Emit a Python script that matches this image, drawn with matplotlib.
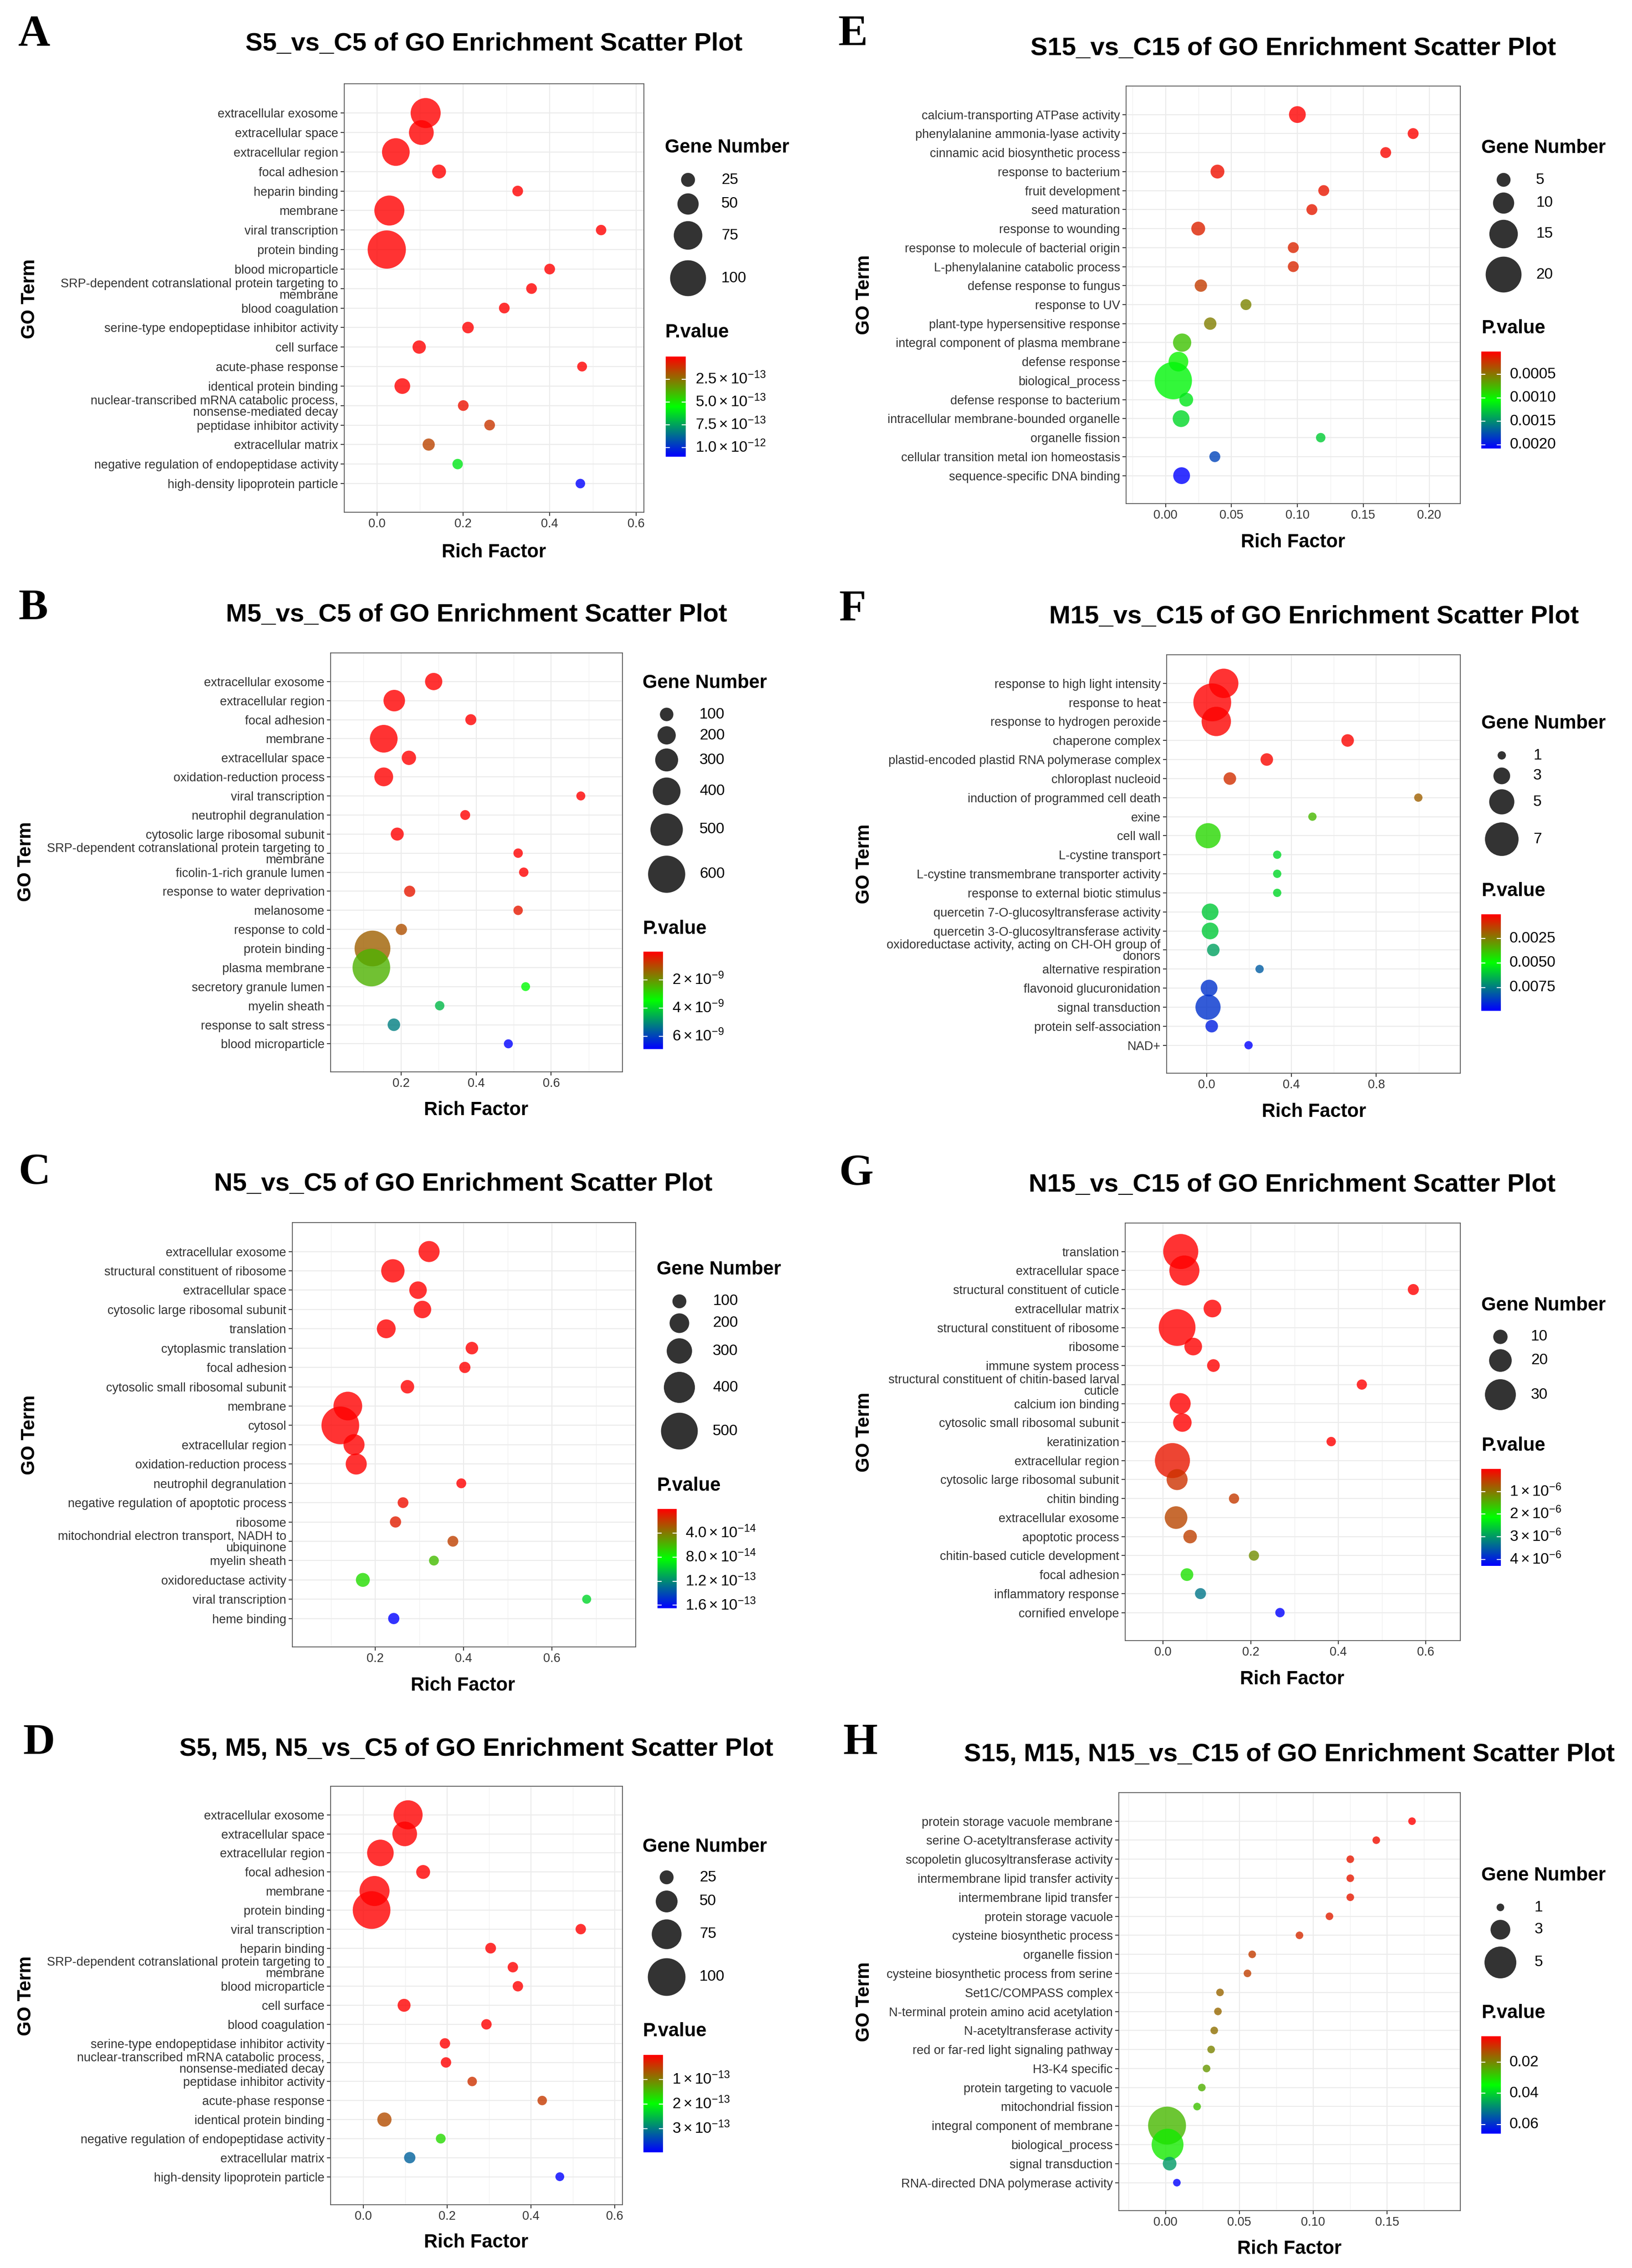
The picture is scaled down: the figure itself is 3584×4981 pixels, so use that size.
import numpy as np
import matplotlib
matplotlib.use('Agg')
import matplotlib.pyplot as plt
from matplotlib.colors import LinearSegmentedColormap, Normalize

plt.rcParams['font.family'] = ['Liberation Sans', 'DejaVu Sans']
plt.rcParams['mathtext.fontset'] = 'custom'
plt.rcParams['mathtext.rm'] = 'Liberation Sans'
plt.rcParams['mathtext.it'] = 'Liberation Sans:italic'
plt.rcParams['mathtext.bf'] = 'Liberation Sans:bold'

W, H = 3584, 4981
DPI = 100
PT = 72 / DPI  # points per pixel

# ---------------- data ----------------
# A: S5_vs_C5
terms_a = ['extracellular exosome', 'extracellular space', 'extracellular region', 'focal adhesion',
           'heparin binding', 'membrane', 'viral transcription', 'protein binding', 'blood microparticle',
           'SRP-dependent cotranslational protein targeting to\nmembrane', 'blood coagulation',
           'serine-type endopeptidase inhibitor activity', 'cell surface', 'acute-phase response',
           'identical protein binding', 'nuclear-transcribed mRNA catabolic process,\nnonsense-mediated decay',
           'peptidase inhibitor activity', 'extracellular matrix',
           'negative regulation of endopeptidase activity', 'high-density lipoprotein particle']
rich_a = [0.113, 0.103, 0.044, 0.144, 0.326, 0.029, 0.519, 0.023, 0.400, 0.358,
          0.295, 0.211, 0.098, 0.475, 0.059, 0.200, 0.261, 0.120, 0.187, 0.471]
genes_a = [80, 62, 72, 25, 14, 80, 13, 108, 14, 14, 14, 17, 23, 11, 31, 14, 14, 19, 13, 10]
pval_a = [1e-40, 5e-39, 2e-35, 1e-25, 3e-22, 1e-20, 5e-20, 2e-19, 4e-19, 1e-18,
          6e-18, 2e-17, 1e-16, 3e-16, 1e-15, 4e-14, 1.2e-13, 1.5e-13, 6.0e-13, 1.1e-12]

# B: M5_vs_C5
terms_b = ['extracellular exosome', 'extracellular region', 'focal adhesion', 'membrane',
           'extracellular space', 'oxidation-reduction process', 'viral transcription',
           'neutrophil degranulation', 'cytosolic large ribosomal subunit',
           'SRP-dependent cotranslational protein targeting to\nmembrane', 'ficolin-1-rich granule lumen',
           'response to water deprivation', 'melanosome', 'response to cold', 'protein binding',
           'plasma membrane', 'secretory granule lumen', 'myelin sheath', 'response to salt stress',
           'blood microparticle']
rich_b = [0.287, 0.182, 0.386, 0.154, 0.221, 0.154, 0.679, 0.371, 0.190, 0.512,
          0.527, 0.223, 0.512, 0.201, 0.124, 0.121, 0.532, 0.303, 0.181, 0.486]
genes_b = [180, 270, 48, 400, 118, 212, 5, 24, 90, 14, 14, 52, 14, 52, 571, 610, 3, 14, 80, 5]
pval_b = [1e-30, 1e-28, 1e-25, 1e-24, 1e-22, 1e-20, 1e-18, 1e-16, 1e-15, 1e-13,
          1e-12, 3.5e-10, 3.5e-10, 1.1e-9, 1.3e-9, 2.4e-9, 3.5e-9, 4.4e-9, 5.2e-9, 6.9e-9]

# C: N5_vs_C5
terms_c = ['extracellular exosome', 'structural constituent of ribosome', 'extracellular space',
           'cytosolic large ribosomal subunit', 'translation', 'cytoplasmic translation', 'focal adhesion',
           'cytosolic small ribosomal subunit', 'membrane', 'cytosol', 'extracellular region',
           'oxidation-reduction process', 'neutrophil degranulation',
           'negative regulation of apoptotic process', 'ribosome',
           'mitochondrial electron transport, NADH to\nubiquinone', 'myelin sheath',
           'oxidoreductase activity', 'viral transcription', 'heme binding']
rich_c = [0.322, 0.240, 0.297, 0.307, 0.225, 0.419, 0.403, 0.273, 0.138, 0.121,
          0.152, 0.157, 0.395, 0.263, 0.246, 0.376, 0.333, 0.172, 0.679, 0.242]
genes_c = [225, 265, 163, 163, 186, 76, 53, 92, 359, 516, 225, 225, 29, 45, 53, 45, 29, 100, 14, 53]
pval_c = [1e-40, 1e-38, 1e-36, 1e-34, 1e-32, 1e-30, 1e-28, 1e-26, 1e-24, 1e-22,
          1e-20, 1e-18, 1e-16, 5e-15, 1.0e-14, 2.1e-14, 6.1e-14, 7.1e-14, 9.6e-14, 1.65e-13]

# D: S5, M5, N5_vs_C5
terms_d = ['extracellular exosome', 'extracellular space', 'extracellular region', 'focal adhesion',
           'membrane', 'protein binding', 'viral transcription', 'heparin binding',
           'SRP-dependent cotranslational protein targeting to\nmembrane', 'blood microparticle',
           'cell surface', 'blood coagulation', 'serine-type endopeptidase inhibitor activity',
           'nuclear-transcribed mRNA catabolic process,\nnonsense-mediated decay',
           'peptidase inhibitor activity', 'acute-phase response', 'identical protein binding',
           'negative regulation of endopeptidase activity', 'extracellular matrix',
           'high-density lipoprotein particle']
rich_d = [0.107, 0.099, 0.041, 0.143, 0.027, 0.020, 0.519, 0.304, 0.357, 0.369,
          0.0975, 0.294, 0.195, 0.1975, 0.260, 0.427, 0.0506, 0.185, 0.111, 0.469]
genes_d = [73, 59, 65, 25, 76, 100, 14, 15, 14, 14, 22, 14, 14, 14, 11, 11, 26, 12, 17, 9]
pval_d = [1e-40, 1e-38, 1e-36, 1e-34, 1e-32, 1e-30, 1e-28, 1e-26, 1e-24, 1e-22,
          1e-20, 1e-18, 1e-16, 1e-15, 4e-14, 4.5e-14, 6e-14, 1.7e-13, 3.2e-13, 3.96e-13]

# E: S15_vs_C15
terms_e = ['calcium-transporting ATPase activity', 'phenylalanine ammonia-lyase activity',
           'cinnamic acid biosynthetic process', 'response to bacterium', 'fruit development',
           'seed maturation', 'response to wounding', 'response to molecule of bacterial origin',
           'L-phenylalanine catabolic process', 'defense response to fungus', 'response to UV',
           'plant-type hypersensitive response', 'integral component of plasma membrane',
           'defense response', 'biological_process', 'defense response to bacterium',
           'intracellular membrane-bounded organelle', 'organelle fission',
           'cellular transition metal ion homeostasis', 'sequence-specific DNA binding']
rich_e = [0.100, 0.1878, 0.167, 0.0394, 0.120, 0.111, 0.0248, 0.0969, 0.0969, 0.0268,
          0.061, 0.0339, 0.0126, 0.0098, 0.0059, 0.0157, 0.0118, 0.1177, 0.0374, 0.0122]
genes_e = [7, 3, 3, 5, 3, 3, 5, 3, 3, 4, 3, 4, 8, 9, 21, 5, 7, 2, 3, 7]
pval_e = [0.00001, 0.00002, 0.00004, 0.00008, 0.0001, 0.00012, 0.00015, 0.00016, 0.00017, 0.00026,
          0.00055, 0.00052, 0.0008, 0.0010, 0.00108, 0.00115, 0.0012, 0.00125, 0.0018, 0.00208]

# F: M15_vs_C15
terms_f = ['response to high light intensity', 'response to heat', 'response to hydrogen peroxide',
           'chaperone complex', 'plastid-encoded plastid RNA polymerase complex', 'chloroplast nucleoid',
           'induction of programmed cell death', 'exine', 'cell wall', 'L-cystine transport',
           'L-cystine transmembrane transporter activity', 'response to external biotic stimulus',
           'quercetin 7-O-glucosyltransferase activity', 'quercetin 3-O-glucosyltransferase activity',
           'oxidoreductase activity, acting on CH-OH group of\ndonors', 'alternative respiration',
           'flavonoid glucuronidation', 'signal transduction', 'protein self-association', 'NAD+']
rich_f = [0.081, 0.027, 0.046, 0.665, 0.284, 0.110, 0.998, 0.499, 0.0073, 0.333,
          0.333, 0.333, 0.017, 0.017, 0.032, 0.250, 0.012, 0.007, 0.0245, 0.198]
genes_f = [6, 8, 6, 2, 2, 2, 1, 1, 5, 1, 1, 1, 3, 3, 2, 1, 3, 5, 2, 1]
pval_f = [0.00001, 0.00003, 0.00005, 0.0001, 0.00015, 0.0009, 0.0019, 0.0036, 0.0042, 0.0057,
          0.0057, 0.0057, 0.0060, 0.0060, 0.0068, 0.0081, 0.0089, 0.0089, 0.0093, 0.0099]

# G: N15_vs_C15
terms_g = ['translation', 'extracellular space', 'structural constituent of cuticle', 'extracellular matrix',
           'structural constituent of ribosome', 'ribosome', 'immune system process',
           'structural constituent of chitin-based larval\ncuticle', 'calcium ion binding',
           'cytosolic small ribosomal subunit', 'keratinization', 'extracellular region',
           'cytosolic large ribosomal subunit', 'chitin binding', 'extracellular exosome',
           'apoptotic process', 'chitin-based cuticle development', 'focal adhesion',
           'inflammatory response', 'cornified envelope']
rich_g = [0.0403, 0.0486, 0.5716, 0.1127, 0.032, 0.0688, 0.115, 0.454, 0.039, 0.044,
          0.384, 0.0213, 0.032, 0.162, 0.0296, 0.0617, 0.2075, 0.0545, 0.0854, 0.267]
genes_g = [35, 29, 6, 14, 37, 14, 8, 5, 18, 15, 4, 35, 18, 5, 20, 9, 5, 8, 6, 4]
pval_g = [1e-20, 1e-19, 1e-18, 1e-17, 1e-16, 1e-15, 1e-14, 1e-13, 1e-12, 1e-11,
          1e-10, 2e-7, 4.3e-7, 5e-7, 6e-7, 5.5e-7, 1.2e-6, 1.9e-6, 3.3e-6, 4.29e-6]

# H: S15, M15, N15_vs_C15
terms_h = ['protein storage vacuole membrane', 'serine O-acetyltransferase activity',
           'scopoletin glucosyltransferase activity', 'intermembrane lipid transfer activity',
           'intermembrane lipid transfer', 'protein storage vacuole', 'cysteine biosynthetic process',
           'organelle fission', 'cysteine biosynthetic process from serine', 'Set1C/COMPASS complex',
           'N-terminal protein amino acid acetylation', 'N-acetyltransferase activity',
           'red or far-red light signaling pathway', 'H3-K4 specific', 'protein targeting to vacuole',
           'mitochondrial fission', 'integral component of membrane', 'biological_process',
           'signal transduction', 'RNA-directed DNA polymerase activity']
rich_h = [0.1669, 0.1427, 0.1251, 0.1251, 0.1251, 0.111, 0.0907, 0.0587, 0.0555, 0.0369,
          0.0355, 0.033, 0.0309, 0.0278, 0.0246, 0.0214, 0.00105, 0.0014, 0.0028, 0.0077]
genes_h = [1, 1, 1, 1, 1, 1, 1, 1, 1, 1, 1, 1, 1, 1, 1, 1, 6, 5, 2, 1]
pval_h = [0.0032, 0.005, 0.0063, 0.0063, 0.0063, 0.007, 0.0085, 0.0107, 0.011, 0.0158,
          0.016, 0.017, 0.0195, 0.022, 0.025, 0.027, 0.026, 0.032, 0.047, 0.066]

# legend breaks and labels
size_breaks = {'A': [25, 50, 75, 100], 'B': [100, 200, 300, 400, 500, 600], 'C': [100, 200, 300, 400, 500],
               'D': [25, 50, 75, 100], 'E': [5, 10, 15, 20], 'F': [1, 3, 5, 7], 'G': [10, 20, 30], 'H': [1, 3, 5]}
cb_ticks = {'A': [2.5e-13, 5e-13, 7.5e-13, 1e-12], 'B': [2e-9, 4e-9, 6e-9],
            'C': [4e-14, 8e-14, 1.2e-13, 1.6e-13], 'D': [1e-13, 2e-13, 3e-13],
            'E': [0.0005, 0.0010, 0.0015, 0.0020], 'F': [0.0025, 0.0050, 0.0075],
            'G': [1e-6, 2e-6, 3e-6, 4e-6], 'H': [0.02, 0.04, 0.06]}
cb_labels = {'A': [r'$2.5\times10^{-13}$', r'$5.0\times10^{-13}$', r'$7.5\times10^{-13}$', r'$1.0\times10^{-12}$'],
             'B': [r'$2\times10^{-9}$', r'$4\times10^{-9}$', r'$6\times10^{-9}$'],
             'C': [r'$4.0\times10^{-14}$', r'$8.0\times10^{-14}$', r'$1.2\times10^{-13}$', r'$1.6\times10^{-13}$'],
             'D': [r'$1\times10^{-13}$', r'$2\times10^{-13}$', r'$3\times10^{-13}$'],
             'E': ['0.0005', '0.0010', '0.0015', '0.0020'],
             'F': ['0.0025', '0.0050', '0.0075'],
             'G': [r'$1\times10^{-6}$', r'$2\times10^{-6}$', r'$3\times10^{-6}$', r'$4\times10^{-6}$'],
             'H': ['0.02', '0.04', '0.06']}
x_ticks = {'A': [0.0, 0.2, 0.4, 0.6], 'B': [0.2, 0.4, 0.6], 'C': [0.2, 0.4, 0.6], 'D': [0.0, 0.2, 0.4, 0.6],
           'E': [0.0, 0.05, 0.10, 0.15, 0.20], 'F': [0.0, 0.4, 0.8], 'G': [0.0, 0.2, 0.4, 0.6],
           'H': [0.0, 0.05, 0.10, 0.15]}
x_fmt = {'A': '{:.1f}', 'B': '{:.1f}', 'C': '{:.1f}', 'D': '{:.1f}', 'E': '{:.2f}', 'F': '{:.1f}',
         'G': '{:.1f}', 'H': '{:.2f}'}
titles = {'A': 'S5_vs_C5 of GO Enrichment Scatter Plot', 'B': 'M5_vs_C5 of GO Enrichment Scatter Plot',
          'C': 'N5_vs_C5 of GO Enrichment Scatter Plot', 'D': 'S5, M5, N5_vs_C5 of GO Enrichment Scatter Plot',
          'E': 'S15_vs_C15 of GO Enrichment Scatter Plot', 'F': 'M15_vs_C15 of GO Enrichment Scatter Plot',
          'G': 'N15_vs_C15 of GO Enrichment Scatter Plot',
          'H': 'S15, M15, N15_vs_C15 of GO Enrichment Scatter Plot'}

data = {'A': (terms_a, rich_a, genes_a, pval_a), 'B': (terms_b, rich_b, genes_b, pval_b),
        'C': (terms_c, rich_c, genes_c, pval_c), 'D': (terms_d, rich_d, genes_d, pval_d),
        'E': (terms_e, rich_e, genes_e, pval_e), 'F': (terms_f, rich_f, genes_f, pval_f),
        'G': (terms_g, rich_g, genes_g, pval_g), 'H': (terms_h, rich_h, genes_h, pval_h)}

# ---------------- layout (pixels) ----------------
layout = {
    'A': dict(ax=(756, 184, 1414, 1125), xlim=(-0.0754, 0.618), title=(1085, 97), letter=(40, 100),
              goterm=(65, 656), rich=(1085, 1213), leg_x=1460, gene_y=324, circ_x=1511,
              circ_y=[395, 448, 517, 611], lab_x=1584, pv_y=730, cbar=(1462, 783, 1506, 1003),
              cb_x=1527, fit=(14.5, 0.643)),
    'B': dict(ax=(726, 1434, 1367, 2354), xlim=(0.0124, 0.790), title=(1046, 1351), letter=(40, 1360),
              goterm=(57, 1892), rich=(1046, 2438), leg_x=1411, gene_y=1500, circ_x=1464,
              circ_y=[1569, 1615, 1669, 1738, 1822, 1920], lab_x=1536, pv_y=2040,
              cbar=(1413, 2090, 1456, 2304), cb_x=1476, fit=(19.2, 0.104)),
    'C': dict(ax=(642, 2685, 1396, 3617), xlim=(0.0123, 0.790), title=(1017, 2601), letter=(40, 2600),
              goterm=(65, 3151), rich=(1017, 3702), leg_x=1442, gene_y=2788, circ_x=1492,
              circ_y=[2858, 2906, 2967, 3047, 3143], lab_x=1565, pv_y=3263,
              cbar=(1444, 3314, 1486, 3532), cb_x=1505, fit=(18.0, 0.1255)),
    'D': dict(ax=(726, 3923, 1367, 4842), xlim=(-0.0778, 0.6185), title=(1046, 3841), letter=(50, 3852),
              goterm=(57, 4383), rich=(1046, 4925), leg_x=1411, gene_y=4056, circ_x=1464,
              circ_y=[4123, 4176, 4248, 4342], lab_x=1536, pv_y=4461,
              cbar=(1413, 4513, 1456, 4727), cb_x=1476, fit=(13.1, 0.696)),
    'E': dict(ax=(2473, 189, 3207, 1106), xlim=(-0.0299, 0.2236), title=(2840, 107), letter=(1840, 100),
              goterm=(1898, 647), rich=(2840, 1191), leg_x=3253, gene_y=325, circ_x=3302,
              circ_y=[395, 446, 514, 603], lab_x=3373, pv_y=721, cbar=(3253, 772, 3296, 985),
              cb_x=3316, fit=(14.3, 3.22)),
    'F': dict(ax=(2562, 1438, 3207, 2357), xlim=(-0.188, 1.196), title=(2886, 1355), letter=(1842, 1362),
              goterm=(1898, 1897), rich=(2886, 2442), leg_x=3253, gene_y=1589, circ_x=3298,
              circ_y=[1659, 1704, 1761, 1843], lab_x=3367, pv_y=1957,
              cbar=(3253, 2008, 3296, 2220), cb_x=3315, fit=(9.0, 9.25)),
    'G': dict(ax=(2471, 2686, 3207, 3603), xlim=(-0.0866, 0.679), title=(2838, 2603), letter=(1842, 2602),
              goterm=(1898, 3145), rich=(2838, 3688), leg_x=3253, gene_y=2867, circ_x=3295,
              circ_y=[2936, 2988, 3063], lab_x=3362, pv_y=3175, cbar=(3253, 3226, 3296, 3439),
              cb_x=3315, fit=(13.3, 1.82)),
    'H': dict(ax=(2457, 3937, 3207, 4855), xlim=(-0.0316, 0.1996), title=(2832, 3853), letter=(1851, 3852),
              goterm=(1898, 4396), rich=(2832, 4939), leg_x=3253, gene_y=4119, circ_x=3295,
              circ_y=[4189, 4238, 4310], lab_x=3370, pv_y=4421, cbar=(3253, 4472, 3296, 4686),
              cb_x=3315, fit=(3.4, 13.3)),
}

cmap = LinearSegmentedColormap.from_list('rgb', ['#ff0000', '#00ff00', '#0000ff'])
TXT = '#333333'


def box(l, t, r, b):
    return [l / W, 1 - b / H, (r - l) / W, (b - t) / H]


def size_pt2(v, fit):
    d = (fit[0] + fit[1] * np.asarray(v, dtype=float)) * PT
    return d ** 2


fig = plt.figure(figsize=(W / DPI, H / DPI), dpi=DPI)
ov = fig.add_axes([0, 0, 1, 1])
ov.set_xlim(0, W)
ov.set_ylim(H, 0)
ov.axis('off')

for key in 'ABCDEFGH':
    terms, rich, genes, pval = data[key]
    L = layout[key]
    n = len(terms)
    y = np.arange(n)
    norm = Normalize(vmin=min(pval), vmax=max(pval))

    ax = fig.add_axes(box(*L['ax']))
    ax.scatter(rich, y, s=size_pt2(genes, L['fit']), c=pval, cmap=cmap, norm=norm,
               alpha=0.8, edgecolors='none', zorder=3)
    ax.set_xlim(*L['xlim'])
    ax.set_ylim(n - 1 + 1.47, -1.5)
    ax.set_yticks(y)
    ax.set_yticklabels(terms, fontsize=19.5, color=TXT, linespacing=0.95)
    xt = x_ticks[key]
    ax.set_xticks(xt)
    ax.set_xticklabels([x_fmt[key].format(v) for v in xt], fontsize=19.5, color=TXT)
    step = xt[1] - xt[0]
    minors = [v + step / 2 for v in [xt[0] - step] + list(xt)]
    minors = [m for m in minors if L['xlim'][0] < m < L['xlim'][1]]
    ax.set_xticks(minors, minor=True)
    ax.grid(which='major', color='#ebebeb', lw=1.6, zorder=0)
    ax.grid(which='minor', axis='x', color='#f0f0f0', lw=1.0, zorder=0)
    ax.set_axisbelow(True)
    ax.tick_params(which='major', length=5.5, width=1.4, color=TXT, pad=4)
    ax.tick_params(which='minor', length=0)
    for s in ax.spines.values():
        s.set_color('#555555')
        s.set_linewidth(1.3)

    # titles and axis labels
    ov.text(*L['title'], titles[key], ha='center', va='center', fontsize=40.5, fontweight='bold')
    ov.text(*L['letter'], key, ha='left', va='baseline', fontsize=70, fontweight='bold',
            family=['Liberation Serif', 'DejaVu Serif'])
    ov.text(*L['goterm'], 'GO Term', rotation=90, ha='center', va='center', fontsize=30, fontweight='bold')
    ov.text(*L['rich'], 'Rich Factor', ha='center', va='center', fontsize=30, fontweight='bold')

    # size legend
    ov.text(L['leg_x'], L['gene_y'], 'Gene Number', ha='left', va='center', fontsize=30, fontweight='bold')
    br = size_breaks[key]
    ov.scatter([L['circ_x']] * len(br), L['circ_y'], s=size_pt2(br, L['fit']), color='black',
               alpha=0.8, edgecolors='none')
    for b, cy in zip(br, L['circ_y']):
        ov.text(L['lab_x'], cy, str(b), ha='left', va='center', fontsize=24, color='black')

    # colour bar
    ov.text(L['leg_x'], L['pv_y'], 'P.value', ha='left', va='center', fontsize=30, fontweight='bold')
    cl, ct, cr, cb = L['cbar']
    cax = fig.add_axes(box(cl, ct, cr, cb))
    vmin, vmax = norm.vmin, norm.vmax
    grad = np.linspace(vmin, vmax, 400).reshape(-1, 1)
    cax.imshow(grad, aspect='auto', cmap=cmap, norm=norm, extent=[0, 1, vmax, vmin], origin='upper')
    cax.set_xlim(0, 1)
    cax.set_ylim(vmax, vmin)
    cax.axis('off')
    tx = (L['cb_x'] - cl) / (cr - cl)
    for t, lab in zip(cb_ticks[key], cb_labels[key]):
        cax.plot([0, 0.19], [t, t], color='white', lw=1.5)
        cax.plot([0.81, 1], [t, t], color='white', lw=1.5)
        cax.text(tx, t, lab, transform=cax.get_yaxis_transform(), ha='left', va='center',
                 fontsize=24, color='black')

fig.savefig('out.png', dpi=DPI)
